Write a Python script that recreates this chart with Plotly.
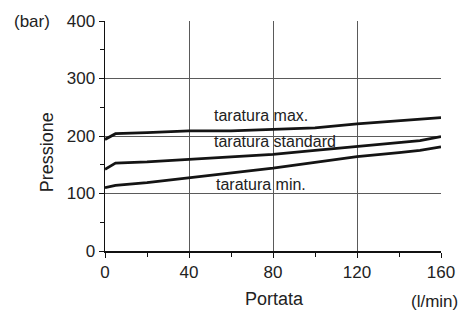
import plotly.graph_objects as go

portata = [0, 5, 20, 40, 60, 80, 100, 120, 140, 150, 160]
taratura_max = [194, 204, 206, 209, 209, 212, 214, 221, 227, 229, 232]
taratura_standard = [142, 153, 155, 159, 163, 168, 175, 182, 189, 192, 199]
taratura_min = [110, 114, 119, 127, 135, 144, 154, 164, 171, 175, 181]

x_ticks = [0, 40, 80, 120, 160]
y_ticks = [0, 100, 200, 300, 400]

FONT = "Liberation Sans, Arial, sans-serif"
TXT = "#222222"

fig = go.Figure()
for name, vals in [("taratura max.", taratura_max),
                   ("taratura standard", taratura_standard),
                   ("taratura min.", taratura_min)]:
    fig.add_trace(go.Scatter(x=portata, y=vals, mode="lines", name=name,
                             line=dict(color="#141414", width=2.8),
                             showlegend=False, hoverinfo="skip"))

W, H = 467, 316
L, R, T, B = 105, 22, 15, 65

fig.update_layout(
    width=W, height=H,
    margin=dict(l=L, r=R, t=T, b=B),
    paper_bgcolor="white", plot_bgcolor="white",
    font=dict(family=FONT, color=TXT, size=17),
    xaxis=dict(range=[0, 160], tickvals=x_ticks, showgrid=True,
               gridcolor="#5a5a5a", gridwidth=1, showline=True,
               linecolor="#111111", linewidth=1.5, ticks="outside",
               ticklen=5, tickcolor="#111111", zeroline=False,
               tickfont=dict(size=17, color=TXT),
               minor=dict(tickvals=[20, 60, 100, 140], ticks="outside",
                          ticklen=4, tickcolor="#111111", showgrid=False)),
    yaxis=dict(range=[0, 400], tickvals=y_ticks, showgrid=True,
               gridcolor="#5a5a5a", gridwidth=1, showline=True,
               linecolor="#111111", linewidth=1.5, ticks="outside",
               ticklen=5, tickcolor="#111111", zeroline=False,
               tickfont=dict(size=17, color=TXT),
               minor=dict(tickvals=[50, 150, 250, 350], ticks="outside",
                          ticklen=4, tickcolor="#111111", showgrid=False)),
)

def px_x(p):
    return (p - L) / (W - L - R)

def px_y(p):
    return 1 - (p - T) / (H - T - B)

annots = [
    dict(text="taratura max.", x=51, y=235, xref="x", yref="y",
         xanchor="left", yanchor="middle", font=dict(size=16)),
    dict(text="taratura standard", x=51, y=191, xref="x", yref="y",
         xanchor="left", yanchor="middle", font=dict(size=16)),
    dict(text="taratura min.", x=52, y=116, xref="x", yref="y",
         xanchor="left", yanchor="middle", font=dict(size=16)),
    dict(text="(bar)", x=px_x(31), y=px_y(15), xref="paper", yref="paper",
         xanchor="center", yanchor="middle", font=dict(size=17)),
    dict(text="Pressione", x=px_x(46), y=px_y(150), xref="paper", yref="paper",
         xanchor="center", yanchor="middle", textangle=-90, font=dict(size=18)),
    dict(text="Portata", x=px_x(277), y=px_y(300), xref="paper", yref="paper",
         xanchor="center", yanchor="middle", font=dict(size=18)),
    dict(text="(l/min)", x=px_x(438), y=px_y(303), xref="paper", yref="paper",
         xanchor="center", yanchor="middle", font=dict(size=17)),
]
for a in annots:
    a["showarrow"] = False
    fig.add_annotation(**a)

fig.write_html("out.html",
               config={"displayModeBar": False, "staticPlot": True},
               post_script="document.body.style.margin='0';document.body.style.overflow='hidden';")
